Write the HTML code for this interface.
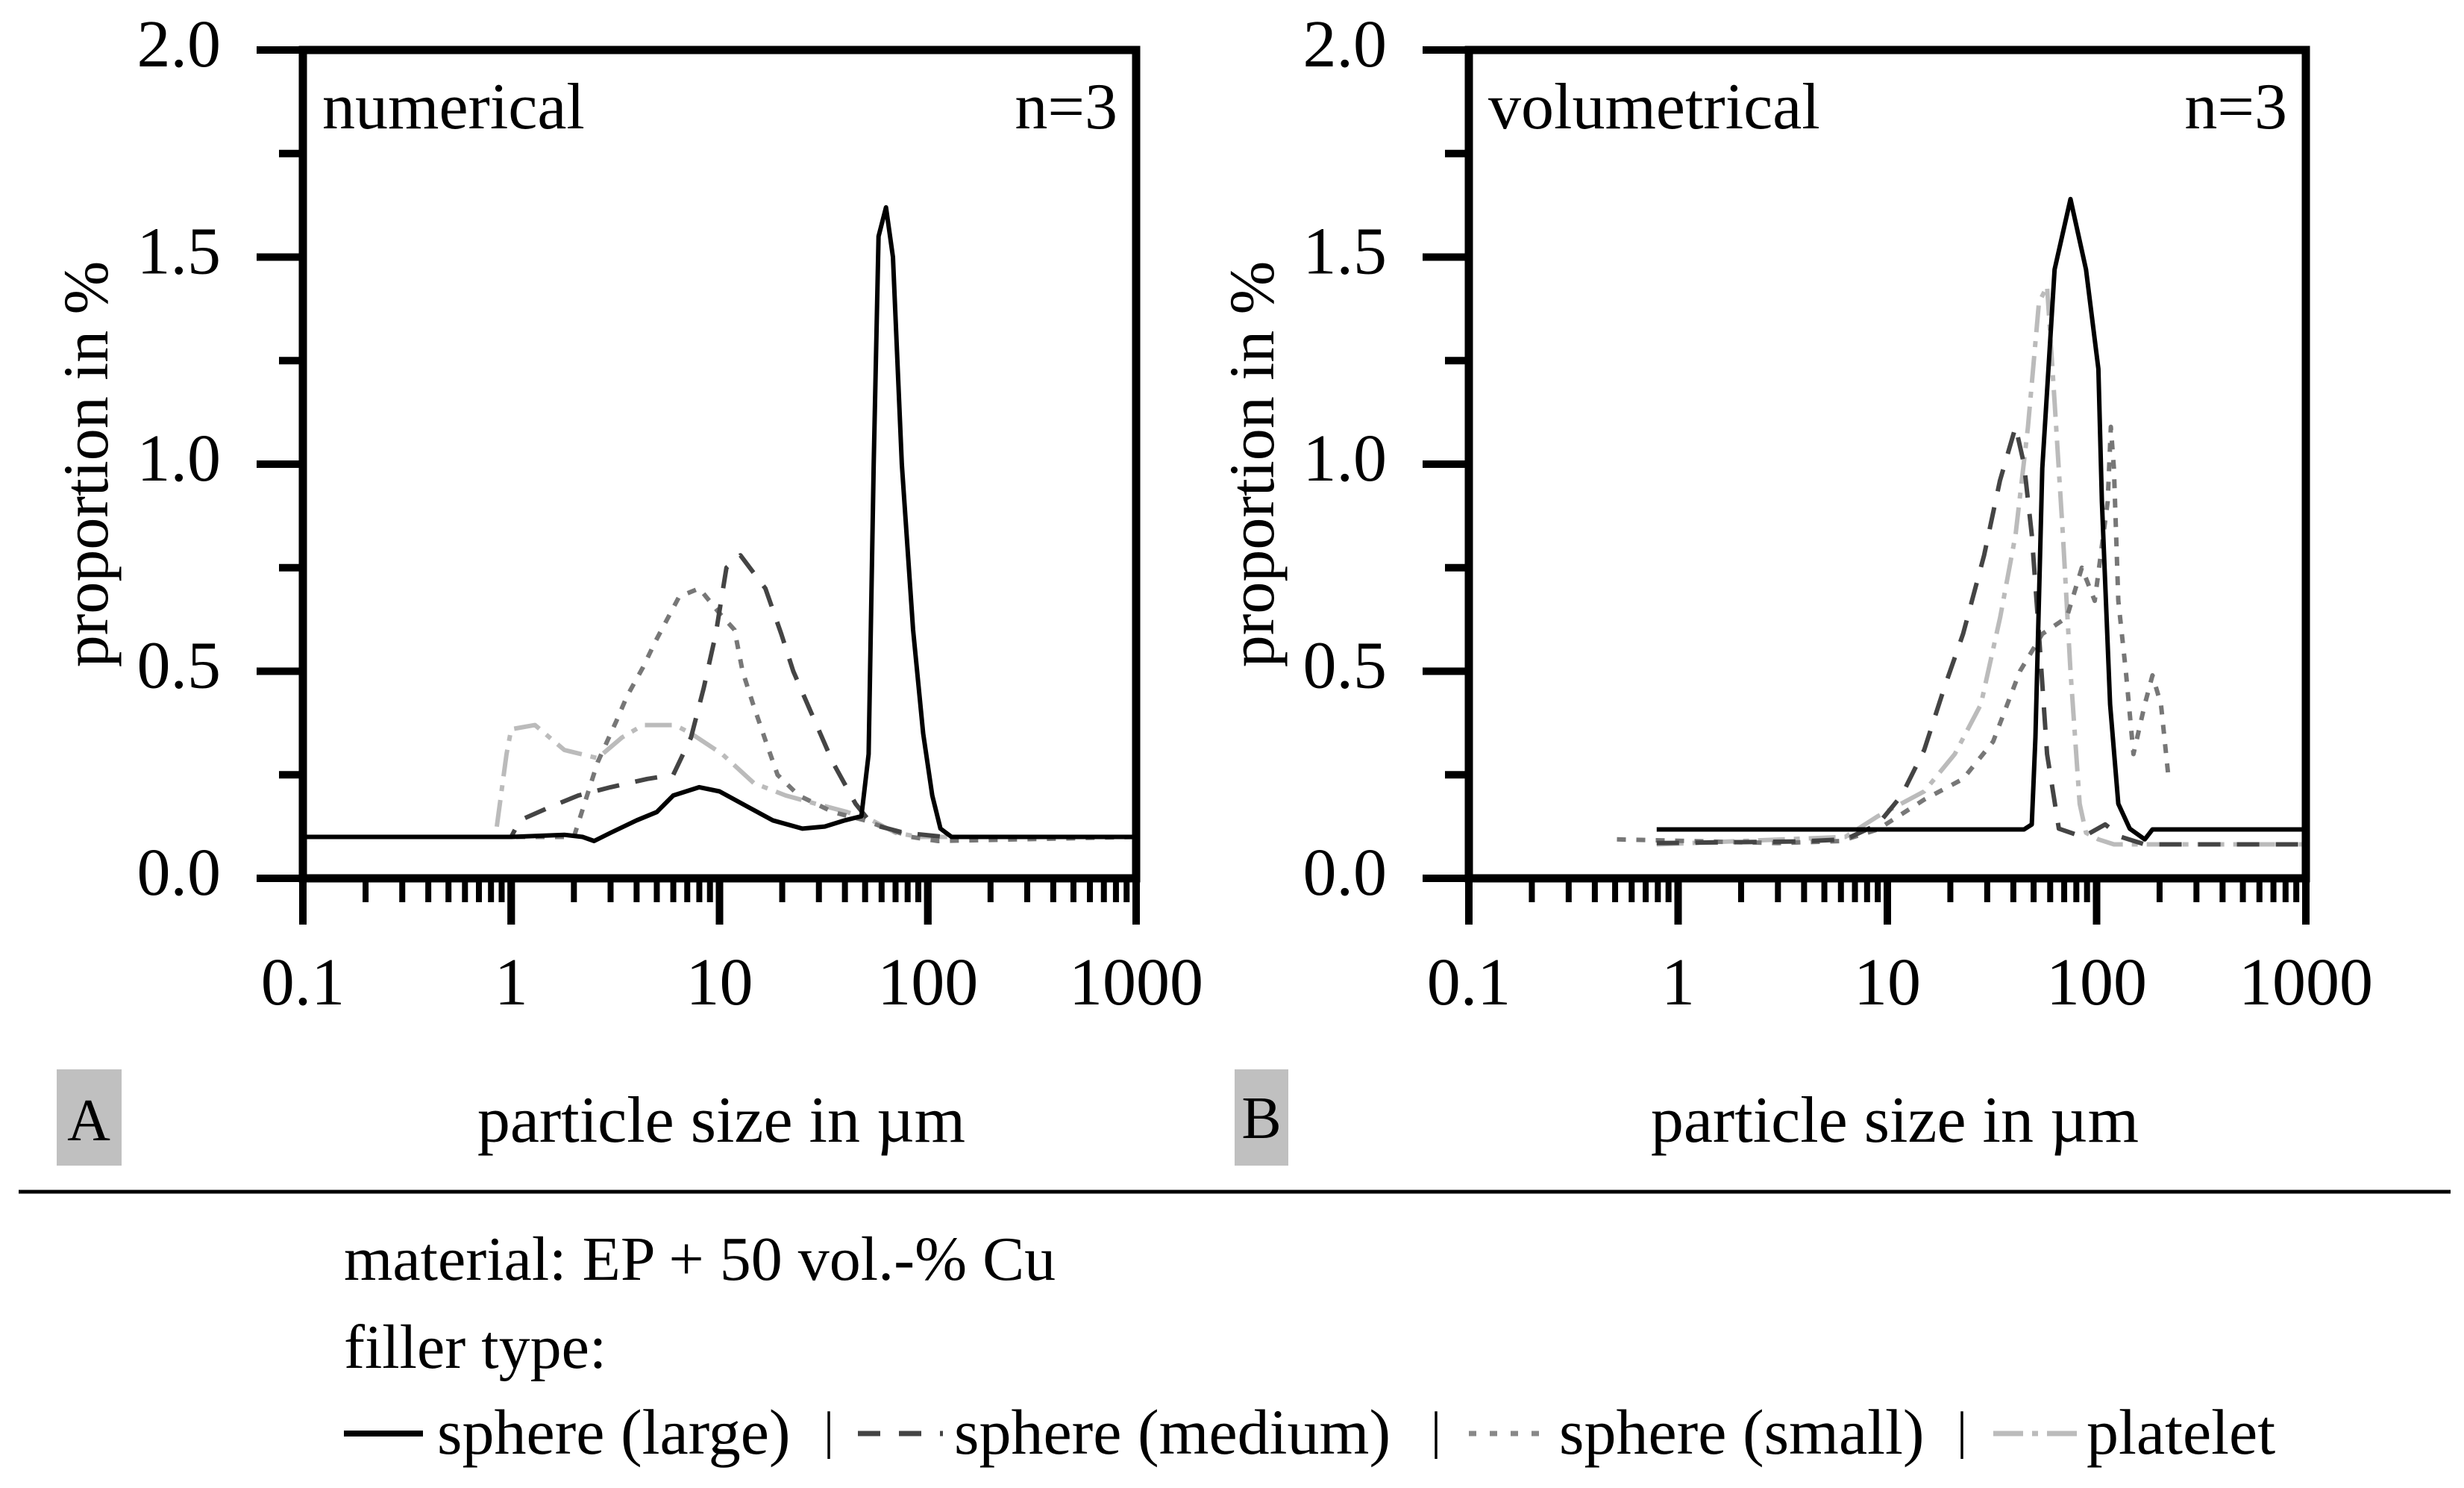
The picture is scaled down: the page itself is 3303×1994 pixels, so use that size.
<!DOCTYPE html>
<html><head><meta charset="utf-8"><style>
html,body{margin:0;padding:0;background:#fff;}
svg{display:block;font-family:"Liberation Serif",serif;}
</style></head><body>
<svg id="fig" width="3303" height="1994" viewBox="0 0 3303 1994" xmlns="http://www.w3.org/2000/svg">
<g id="panelA"></g>
<g id="panelB"></g>
<rect x="76" y="1433" width="87" height="129" fill="#c0c0c0"/>
<text x="119" y="1528" font-size="80" text-anchor="middle">A</text>
<rect x="1655" y="1433" width="72" height="129" fill="#c0c0c0"/>
<text x="1691" y="1525" font-size="80" text-anchor="middle">B</text>
<text x="967" y="1530" font-size="88" text-anchor="middle">particle size in µm</text>
<text x="2540" y="1530" font-size="88" text-anchor="middle">particle size in µm</text>
<line x1="25" y1="1597" x2="3285" y2="1597" stroke="#000" stroke-width="5"/>
<text x="461" y="1715" font-size="84">material: EP + 50 vol.-% Cu</text>
<text x="461" y="1833" font-size="84">filler type:</text>
<g>
<line x1="461" y1="1921" x2="567" y2="1921" stroke="#000" stroke-width="8"/>
<text x="586" y="1948" font-size="86">sphere (large)</text>
<text x="1104" y="1940" font-size="70">|</text>
<line x1="1150" y1="1921" x2="1264" y2="1921" stroke="#444" stroke-width="7" stroke-dasharray="30,25"/>
<text x="1279" y="1948" font-size="86">sphere (medium)</text>
<text x="1918" y="1940" font-size="70">|</text>
<line x1="1969" y1="1921" x2="2075" y2="1921" stroke="#888" stroke-width="7" stroke-dasharray="10,18"/>
<text x="2090" y="1948" font-size="86">sphere (small)</text>
<text x="2623" y="1940" font-size="70">|</text>
<line x1="2672" y1="1921" x2="2784" y2="1921" stroke="#bbb" stroke-width="7" stroke-dasharray="40,12,8,12"/>
<text x="2797" y="1948" font-size="86">platelet</text>
</g>
</svg>
<script>
const xTicks = [0.1, 1, 10, 100, 1000];
const xTickLabels = ["0.1", "1", "10", "100", "1000"];
const yTicks = [0, 0.5, 1.0, 1.5, 2.0];
const yTickLabels = ["0.0", "0.5", "1.0", "1.5", "2.0"];
const panelTitles = ["numerical", "volumetrical"];
const panelN = ["n=3", "n=3"];
// numerical series
const numLargeX = [0.1,1,1.8,2.2,2.5,3,4,5,6,8,10,14,18,25,32,40,48,52,55,58,63,68,75,85,95,105,115,130,1000];
const numLargeY = [0.1,0.1,0.105,0.1,0.09,0.11,0.14,0.16,0.2,0.22,0.21,0.17,0.14,0.12,0.125,0.14,0.15,0.3,1.0,1.55,1.62,1.5,1.0,0.6,0.35,0.2,0.12,0.1,0.1];
const numMediumX = [0.1,1,1.1,1.5,2.1,3,4.5,6,7.3,8.4,9.6,10.8,12.6,16.6,19.8,22.6,27,35,45,54,77,120,1000];
const numMediumY = [0.1,0.1,0.14,0.17,0.2,0.22,0.24,0.25,0.34,0.46,0.59,0.75,0.78,0.7,0.59,0.5,0.41,0.28,0.18,0.13,0.11,0.1,0.1];
const numSmallX = [0.1,2,2.6,3.2,3.6,4.3,4.9,6.4,8,10,11.8,12.9,14.5,16.7,19,24,35,50,64,83,112,1000];
const numSmallY = [0.1,0.1,0.28,0.38,0.44,0.51,0.57,0.68,0.7,0.64,0.6,0.5,0.42,0.33,0.25,0.2,0.16,0.14,0.12,0.1,0.09,0.1];
const numPlateletX = [0.1,0.84,0.95,1,1.3,1.8,2.6,3.4,4.3,6.1,7.3,10.3,14.6,20.8,29,41,54,70,91,1000];
const numPlateletY = [0.1,0.1,0.3,0.36,0.37,0.31,0.29,0.34,0.37,0.37,0.35,0.3,0.23,0.2,0.18,0.16,0.14,0.11,0.1,0.1];
// volumetrical series
const volLargeX = [0.79,45,49,51,55,63,75,89,102,106,116,127,144,170,185,1000];
const volLargeY = [0.118,0.118,0.13,0.34,0.99,1.47,1.64,1.47,1.23,0.91,0.42,0.18,0.12,0.094,0.118,0.118];
const volMediumX = [0.79,3.8,6.3,9,11.7,15,18.7,23,29,34.5,41,45,49,53,58,66,86,110,131,170,1000];
const volMediumY = [0.085,0.089,0.094,0.13,0.2,0.31,0.46,0.59,0.78,0.96,1.09,1.0,0.83,0.59,0.3,0.12,0.1,0.13,0.1,0.082,0.082];
const volSmallX = [0.51,3,6,9,15,23,32,43,55,72,85,98,113,117,121,127,138,150,170,185,203,220];
const volSmallY = [0.094,0.085,0.09,0.118,0.19,0.24,0.33,0.5,0.59,0.63,0.75,0.67,0.91,1.09,0.99,0.67,0.5,0.3,0.42,0.49,0.42,0.25];
const volPlateletX = [0.79,6.3,9,15,21,28,34.6,41,47,53,58,63,69,75,83,89,102,121,1000];
const volPlateletY = [0.082,0.1,0.15,0.21,0.3,0.42,0.63,0.83,1.09,1.39,1.43,1.15,0.83,0.5,0.18,0.11,0.094,0.082,0.082];

const NS = "http://www.w3.org/2000/svg";
const Y0 = 1177, Y1 = 67;
const styles = {
  large: {stroke:"#000", dash:"", w:6},
  medium: {stroke:"#444", dash:"30,22", w:6},
  small: {stroke:"#777", dash:"12,14", w:6},
  platelet: {stroke:"#bbb", dash:"36,12,8,12", w:6}
};
function mk(tag, attrs, parent){ const e=document.createElementNS(NS,tag); for(const k in attrs) e.setAttribute(k,attrs[k]); parent.appendChild(e); return e; }

function drawPanel(g, L, R, idx, series){
  const xs = v => L + (Math.log10(v)+1)/4*(R-L);
  const ys = v => Y0 - v/2*(Y0-Y1);
  series.forEach(s=>{
    const d = s.x.map((v,i)=>(i?"L":"M")+xs(v).toFixed(1)+","+ys(s.y[i]).toFixed(1)).join(" ");
    const st = styles[s.kind];
    const p = mk("path",{d:d,fill:"none",stroke:st.stroke,"stroke-width":st.w,"stroke-linejoin":"round"},g);
    if(st.dash) p.setAttribute("stroke-dasharray",st.dash);
    
    
  });
  const fr = mk("rect",{x:L,y:Y1,width:R-L,height:Y0-Y1,fill:"none",stroke:"#000","stroke-width":11},g);
  
  
  for(let k=0;k<=8;k++){
    const v=k*0.25, y=ys(v), major=(k%2===0);
    const t = mk("line",{x1:L-(major?62:32),y1:y,x2:L,y2:y,stroke:"#000","stroke-width":10},g);
    
    
  }
  yTicks.forEach((v,i)=>{
    const t = mk("text",{x:L-110,y:ys(v)+22,"font-size":90,"text-anchor":"end"},g);
    t.textContent = yTickLabels[i];
    
    
  });
  for(let dec=-1; dec<3; dec++){
    for(let m=1;m<=10;m++){
      const v=m*Math.pow(10,dec), x=xs(v), major=(m===1||m===10);
      const t = mk("line",{x1:x,y1:Y0,x2:x,y2:Y0+(major?62:32),stroke:"#000","stroke-width":major?10:8},g);
      
      
    }
  }
  xTicks.forEach((v,i)=>{
    const t = mk("text",{x:xs(v),y:1346,"font-size":90,"text-anchor":"middle"},g);
    t.textContent = xTickLabels[i];
    
    
  });
  const yt = mk("text",{x:0,y:0,"font-size":86,"text-anchor":"middle",transform:`translate(${L-262},${(Y0+Y1)/2}) rotate(-90)`},g);
  yt.textContent = "proportion in %";
  
  
  const tt = mk("text",{x:L+26,y:172,"font-size":88},g);
  tt.textContent = panelTitles[idx];
  
  
  const nt = mk("text",{x:R-25,y:172,"font-size":88,"text-anchor":"end"},g);
  nt.textContent = panelN[idx];
  
  
}
drawPanel(document.getElementById("panelA"), 406, 1523, 0, [
  {kind:"platelet", x:numPlateletX, y:numPlateletY},
  {kind:"small", x:numSmallX, y:numSmallY},
  {kind:"medium", x:numMediumX, y:numMediumY},
  {kind:"large", x:numLargeX, y:numLargeY}
]);
drawPanel(document.getElementById("panelB"), 1969, 3091, 1, [
  {kind:"platelet", x:volPlateletX, y:volPlateletY},
  {kind:"small", x:volSmallX, y:volSmallY},
  {kind:"medium", x:volMediumX, y:volMediumY},
  {kind:"large", x:volLargeX, y:volLargeY}
]);
</script>
</body></html>
